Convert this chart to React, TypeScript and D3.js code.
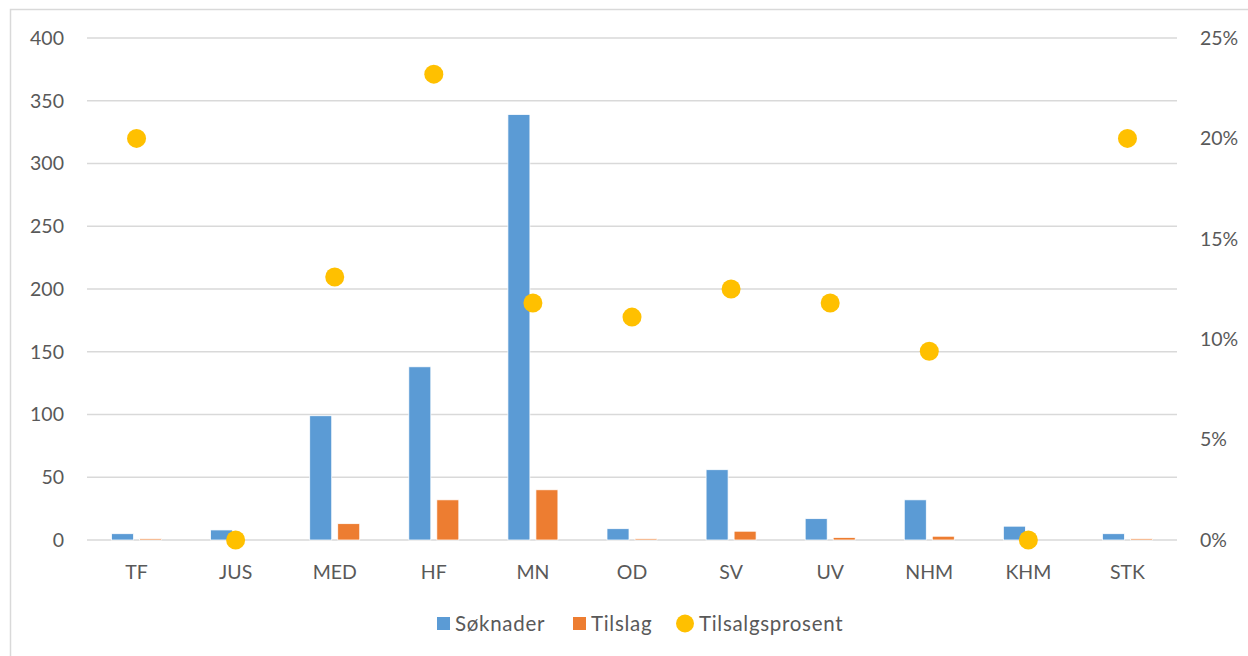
import React from "react";
import * as d3 from "d3";

const categories = ["TF", "JUS", "MED", "HF", "MN", "OD", "SV", "UV", "NHM", "KHM", "STK"];
const soknader = [5, 8, 99, 138, 339, 9, 56, 17, 32, 11, 5];
const tilslag = [1, 0, 13, 32, 40, 1, 7, 2, 3, 0, 1];
const tilsalgsprosent = [0.2, 0, 0.131, 0.232, 0.118, 0.111, 0.125, 0.118, 0.094, 0, 0.2];
const leftTicks = [0, 50, 100, 150, 200, 250, 300, 350, 400];
const rightTicks = [0, 0.05, 0.1, 0.15, 0.2, 0.25];

const W = 1248;
const H = 656;
const FONT = "Lato, 'Open Sans', sans-serif";
const TXT = "#595959";
const GRID = "#d9d9d9";
const BLUE = "#5B9BD5";
const ORANGE = "#ED7D31";
const GOLD = "#FFC000";

export default function App() {
  const left = 87;
  const right = 1177;
  const top = 38;
  const bottom = 540;

  const x = d3.scaleBand<string>().domain(categories).range([left, right]).padding(0);
  const y = d3.scaleLinear().domain([0, 400]).range([bottom, top]);
  const y2 = d3.scaleLinear().domain([0, 0.25]).range([bottom, top]);
  const barW = 22;
  const gap = 3;
  const pct = d3.format(".0%");

  return (
    <svg
      width={W}
      height={H}
      style={{ position: "absolute", left: 0, top: 0, background: "#fff" }}
      fontFamily={FONT}
    >
      <rect x={10.5} y={9.5} width={W} height={H} fill="#fff" stroke={GRID} strokeWidth={1.5} />
      {leftTicks.map((t) => (
        <g key={"g" + t}>
          <line x1={left} x2={right} y1={y(t)} y2={y(t)} stroke={GRID} strokeWidth={1.5} />
          <text x={64} y={y(t)} dy="0.35em" textAnchor="end" fontSize={19.5} fill={TXT}>
            {t}
          </text>
        </g>
      ))}
      {rightTicks.map((t) => (
        <text key={"r" + t} x={1200} y={y2(t)} dy="0.35em" textAnchor="start" fontSize={19.5} fill={TXT}>
          {pct(t)}
        </text>
      ))}
      {categories.map((c, i) => {
        const cx = (x(c) as number) + x.bandwidth() / 2;
        return (
          <g key={c}>
            <rect
              x={cx - gap - barW}
              y={y(soknader[i])}
              width={barW}
              height={bottom - y(soknader[i])}
              fill={BLUE}
              stroke="#fff"
              strokeWidth={0.75}
            />
            {tilslag[i] > 0 && (
              <rect
                x={cx + gap}
                y={y(tilslag[i])}
                width={barW}
                height={bottom - y(tilslag[i])}
                fill={ORANGE}
                stroke="#fff"
                strokeWidth={0.75}
              />
            )}
            <text x={cx} y={572} dy="0.35em" textAnchor="middle" fontSize={19.5} fill={TXT}>
              {c}
            </text>
          </g>
        );
      })}
      {categories.map((c, i) => {
        const cx = (x(c) as number) + x.bandwidth() / 2;
        return <circle key={"p" + c} cx={cx} cy={y2(tilsalgsprosent[i])} r={9.5} fill={GOLD} />;
      })}
      <g fontSize={20.5} fill={TXT} letterSpacing={0.7}>
        <rect x={437} y={617} width={13} height={13} fill={BLUE} />
        <text x={455} y={623.5} dy="0.35em">Søknader</text>
        <rect x={573} y={617} width={13} height={13} fill={ORANGE} />
        <text x={591} y={623.5} dy="0.35em">Tilslag</text>
        <circle cx={685} cy={623.5} r={9} fill={GOLD} />
        <text x={699} y={623.5} dy="0.35em">Tilsalgsprosent</text>
      </g>
    </svg>
  );
}
